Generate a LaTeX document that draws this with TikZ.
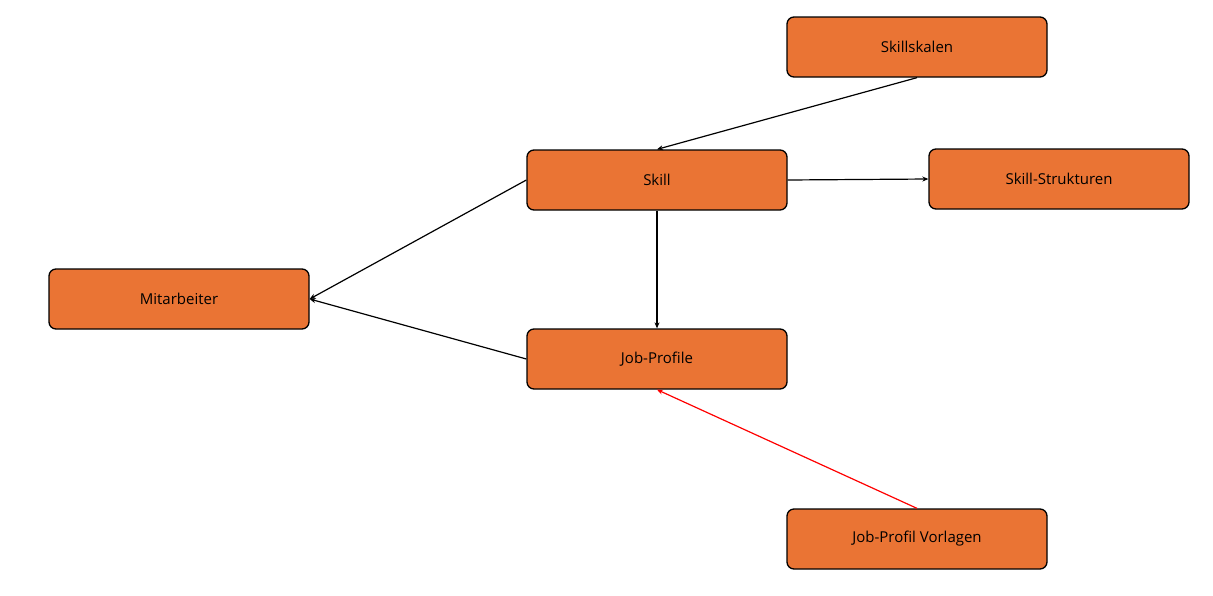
\documentclass[tikz,border=0pt]{standalone}
\usepackage{fontspec}
\setmainfont{Open Sans}
\usetikzlibrary{arrows.meta}
\definecolor{boxor}{HTML}{EA7434}
\begin{document}
\begin{tikzpicture}[x=1pt,y=-1pt,
  box/.style={draw=black,line width=1.3pt,fill=boxor,rounded corners=7pt,minimum width=260pt,minimum height=60pt,inner sep=0pt,font=\fontsize{15}{18}\selectfont},
  conn/.style={line width=1.2pt,-{Stealth[length=6pt,width=5pt]}}]
\useasboundingbox (0,0) rectangle (1213,595);
\node[box] (sk) at (917,47) {Skillskalen};
\node[box] (s) at (657,180) {Skill};
\node[box] (ss) at (1059,179) {Skill-Strukturen};
\node[box] (m) at (179,299) {Mitarbeiter};
\node[box] (jp) at (657,359) {Job-Profile};
\node[box] (jv) at (917,539) {Job-Profil Vorlagen};
\draw[conn] (sk.south) -- (s.north);
\draw[conn] (s.east) -- (ss.west);
\draw[conn] (s.west) -- (m.east);
\draw[conn] (s.south) -- (jp.north);
\draw[conn] (jp.west) -- (m.east);
\draw[conn,red] (jv.north) -- (jp.south);
\end{tikzpicture}
\end{document}
